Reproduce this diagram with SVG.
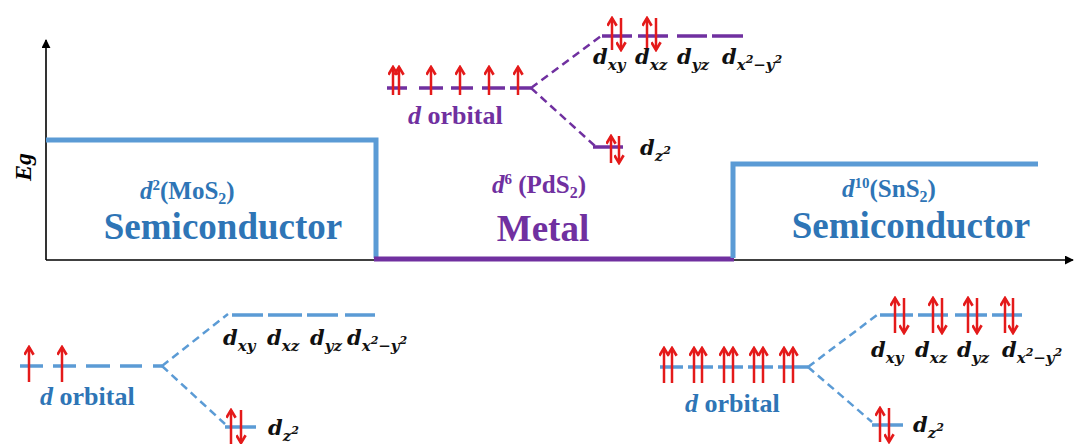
<svg xmlns="http://www.w3.org/2000/svg" width="1074" height="444" viewBox="0 0 1074 444">
<style>
.ser{font-family:'Liberation Serif','DejaVu Serif',serif;font-weight:bold}
.big{font-size:37px}
.mid{font-size:26px}
.blue{fill:#2E75B6}
.purp{fill:#7030A0}
.lab{font-family:'DejaVu Serif','Liberation Serif',serif;font-weight:bold;font-style:italic;font-size:21px;fill:#111}
.sub{font-size:15px}
.sup{font-size:11px}
.arw{stroke:#E41A1A;stroke-width:2.5;fill:none;marker-end:url(#ah)}
.lvB{stroke:#5B9BD5;stroke-width:3.5;fill:none}
.lvP{stroke:#7030A0;stroke-width:3.5;fill:none}
.dshB{stroke:#5B9BD5;stroke-width:2.5;stroke-dasharray:8,5;fill:none}
.dshP{stroke:#7030A0;stroke-width:2.5;stroke-dasharray:8,5;fill:none}
</style>
<defs>
<marker id="ah" viewBox="0 0 10 10" refX="8.5" refY="5" markerWidth="11" markerHeight="11" markerUnits="userSpaceOnUse" orient="auto">
<path d="M1.5,0.8 L8.5,5 L1.5,9.2" stroke="#E41A1A" stroke-width="2.4" fill="none"/>
</marker>
<marker id="ax" viewBox="0 0 10 10" refX="9" refY="5" markerWidth="9" markerHeight="9" markerUnits="userSpaceOnUse" orient="auto">
<path d="M0,0 L10,5 L0,10 z" fill="#000"/>
</marker>
</defs>
<rect width="1074" height="444" fill="#fff"/>

<g id="axes">
<line x1="46" y1="260" x2="46" y2="40" stroke="#000" stroke-width="1.6" marker-end="url(#ax)"/>
<line x1="46" y1="260" x2="1073" y2="260" stroke="#000" stroke-width="1.6" marker-end="url(#ax)"/>
<text class="ser" font-family="Liberation Serif, serif" font-style="italic" font-size="24" transform="translate(31,167) rotate(-90)" text-anchor="middle">Eg</text>
</g>

<g id="bandgap">
<polyline points="46,140 376,140 376,258" fill="none" stroke="#5B9BD5" stroke-width="5"/>
<line x1="374" y1="259" x2="734" y2="259" stroke="#7030A0" stroke-width="5"/>
<polyline points="733,258 733,164 1038,164" fill="none" stroke="#5B9BD5" stroke-width="5"/>
</g>

<g id="mos2-label">
<text class="ser blue" font-family="Liberation Serif, serif" font-size="25" x="140" y="199"><tspan font-style="italic">d</tspan><tspan font-size="15" dy="-9">2</tspan><tspan dy="9">(MoS</tspan><tspan font-size="16" dy="5">2</tspan><tspan dy="-5">)</tspan></text>
<text class="ser blue big" font-family="Liberation Serif, serif" x="223" y="239" text-anchor="middle">Semiconductor</text>
</g>

<g id="pds2-label">
<text class="ser purp" font-family="Liberation Serif, serif" font-size="25" x="492" y="193"><tspan font-style="italic">d</tspan><tspan font-size="15" dy="-9">6</tspan><tspan dy="9"> (PdS</tspan><tspan font-size="16" dy="5">2</tspan><tspan dy="-5">)</tspan></text>
<text class="ser purp big" font-family="Liberation Serif, serif" x="543" y="241" text-anchor="middle">Metal</text>
</g>

<g id="sns2-label">
<text class="ser blue" font-family="Liberation Serif, serif" font-size="25" x="842" y="197"><tspan font-style="italic">d</tspan><tspan font-size="15" dy="-9">10</tspan><tspan dy="9">(SnS</tspan><tspan font-size="16" dy="5">2</tspan><tspan dy="-5">)</tspan></text>
<text class="ser blue big" font-family="Liberation Serif, serif" x="911" y="238" text-anchor="middle">Semiconductor</text>
</g>

<g id="pds2-orbitals">
<path class="lvP" d="M387,88H407 M419,88H443 M451,88H473 M482,88H505 M510,88H531"/>
<path class="dshP" d="M531,88 L601,36 M531,88 L595,146"/>
<path class="lvP" d="M602,36H632 M638,36H668 M677,36H707 M712,36H743"/>
<path class="lvP" d="M593,147H623"/>
<line class="arw" x1="393" y1="95" x2="393" y2="67"/>
<line class="arw" x1="399" y1="95" x2="399" y2="67"/>
<line class="arw" x1="431" y1="95" x2="431" y2="67"/>
<line class="arw" x1="460" y1="95" x2="460" y2="67"/>
<line class="arw" x1="489" y1="95" x2="489" y2="67"/>
<line class="arw" x1="518" y1="95" x2="518" y2="67"/>
<line class="arw" x1="612" y1="50" x2="612" y2="18"/>
<line class="arw" x1="621" y1="18" x2="621" y2="50"/>
<line class="arw" x1="647" y1="50" x2="647" y2="18"/>
<line class="arw" x1="656" y1="18" x2="656" y2="50"/>
<line class="arw" x1="611" y1="163" x2="611" y2="136"/>
<line class="arw" x1="619" y1="136" x2="619" y2="163"/>
<text class="ser purp mid" font-family="Liberation Serif, serif" x="408" y="124"><tspan font-style="italic">d</tspan> orbital</text>
<text class="lab" x="593" y="64">d<tspan class="sub" dy="6">xy</tspan></text>
<text class="lab" x="635" y="64">d<tspan class="sub" dy="6">xz</tspan></text>
<text class="lab" x="677" y="64">d<tspan class="sub" dy="6">yz</tspan></text>
<text class="lab" x="722" y="64">d<tspan class="sub" dy="6">x</tspan><tspan class="sup" dy="-7">2</tspan><tspan class="sub" dy="7">−y</tspan><tspan class="sup" dy="-7">2</tspan></text>
<text class="lab" x="640" y="155">d<tspan class="sub" dy="6">z</tspan><tspan class="sup" dy="-7">2</tspan></text>
</g>

<g id="mos2-orbitals">
<path class="lvB" d="M20,366H43 M53,366H76 M86,366H110 M120,366H142 M153,366H162"/>
<path class="dshB" d="M162,366 L228,314 M162,366 L225,424"/>
<path class="lvB" d="M232,315H263 M268,315H302 M307,315H338 M345,315H375"/>
<path class="lvB" d="M225,427H256"/>
<line class="arw" x1="29" y1="382" x2="29" y2="347"/>
<line class="arw" x1="62" y1="382" x2="62" y2="347"/>
<line class="arw" x1="231" y1="444" x2="231" y2="410"/>
<line class="arw" x1="241" y1="410" x2="241" y2="443"/>
<text class="ser blue mid" font-family="Liberation Serif, serif" x="40" y="405"><tspan font-style="italic">d</tspan> orbital</text>
<text class="lab" x="223" y="345">d<tspan class="sub" dy="6">xy</tspan></text>
<text class="lab" x="267" y="345">d<tspan class="sub" dy="6">xz</tspan></text>
<text class="lab" x="310" y="345">d<tspan class="sub" dy="6">yz</tspan></text>
<text class="lab" x="347" y="345">d<tspan class="sub" dy="6">x</tspan><tspan class="sup" dy="-7">2</tspan><tspan class="sub" dy="7">−y</tspan><tspan class="sup" dy="-7">2</tspan></text>
<text class="lab" x="268" y="435">d<tspan class="sub" dy="6">z</tspan><tspan class="sup" dy="-7">2</tspan></text>
</g>

<g id="sns2-orbitals">
<path class="lvB" d="M660,367H683 M688,367H713 M718,367H743 M748,367H773 M778,367H808"/>
<path class="dshB" d="M808,367 L877,315 M808,367 L872,422"/>
<path class="lvB" d="M880,315H913 M918,315H948 M955,315H987 M992,315H1022"/>
<path class="lvB" d="M872,425H903"/>
<line class="arw" x1="664" y1="383" x2="664" y2="348"/>
<line class="arw" x1="672" y1="383" x2="672" y2="348"/>
<line class="arw" x1="694" y1="383" x2="694" y2="348"/>
<line class="arw" x1="702" y1="383" x2="702" y2="348"/>
<line class="arw" x1="724" y1="383" x2="724" y2="348"/>
<line class="arw" x1="733" y1="383" x2="733" y2="348"/>
<line class="arw" x1="754" y1="383" x2="754" y2="348"/>
<line class="arw" x1="763" y1="383" x2="763" y2="348"/>
<line class="arw" x1="784" y1="383" x2="784" y2="348"/>
<line class="arw" x1="793" y1="383" x2="793" y2="348"/>
<line class="arw" x1="895" y1="333" x2="895" y2="298"/>
<line class="arw" x1="904" y1="298" x2="904" y2="333"/>
<line class="arw" x1="933" y1="333" x2="933" y2="298"/>
<line class="arw" x1="942" y1="298" x2="942" y2="333"/>
<line class="arw" x1="968" y1="333" x2="968" y2="298"/>
<line class="arw" x1="977" y1="298" x2="977" y2="333"/>
<line class="arw" x1="1005" y1="333" x2="1005" y2="298"/>
<line class="arw" x1="1013" y1="298" x2="1013" y2="333"/>
<line class="arw" x1="880" y1="442" x2="880" y2="408"/>
<line class="arw" x1="889" y1="408" x2="889" y2="442"/>
<text class="ser blue mid" font-family="Liberation Serif, serif" x="685" y="412"><tspan font-style="italic">d</tspan> orbital</text>
<text class="lab" x="871" y="357">d<tspan class="sub" dy="6">xy</tspan></text>
<text class="lab" x="915" y="357">d<tspan class="sub" dy="6">xz</tspan></text>
<text class="lab" x="957" y="357">d<tspan class="sub" dy="6">yz</tspan></text>
<text class="lab" x="1002" y="357">d<tspan class="sub" dy="6">x</tspan><tspan class="sup" dy="-7">2</tspan><tspan class="sub" dy="7">−y</tspan><tspan class="sup" dy="-7">2</tspan></text>
<text class="lab" x="913" y="432">d<tspan class="sub" dy="6">z</tspan><tspan class="sup" dy="-7">2</tspan></text>
</g>
</svg>
